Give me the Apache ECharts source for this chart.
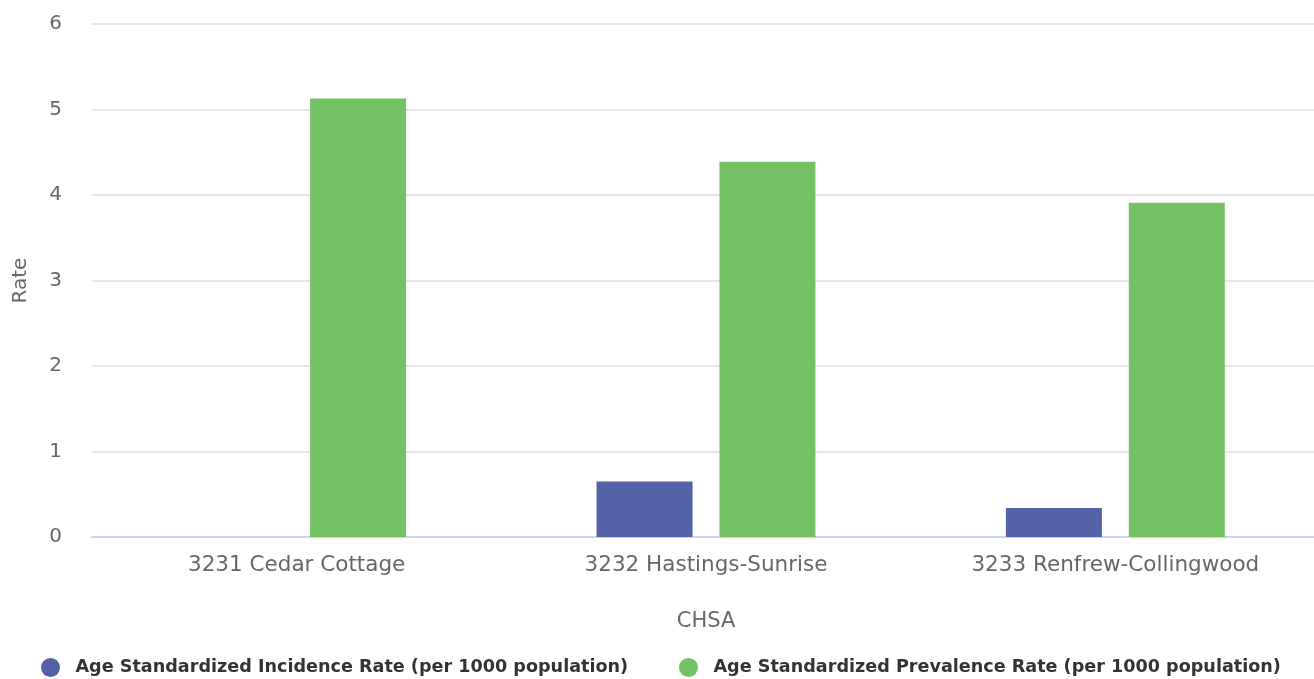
<!DOCTYPE html>
<html>
<head>
<meta charset="utf-8">
<script src="https://cdn.jsdelivr.net/npm/echarts@6/dist/echarts.min.js"></script>
<style>
  html, body { margin: 0; padding: 0; background: #fff; overflow: hidden; }
  #chart { width: 1320px; height: 679px; }
</style>
</head>
<body>
<div id="chart"></div>
<script>
  var categories = ['3231 Cedar Cottage', '3232 Hastings-Sunrise', '3233 Renfrew-Collingwood'];
  var seriesNames = [
    'Age Standardized Incidence Rate (per 1000 population)',
    'Age Standardized Prevalence Rate (per 1000 population)'
  ];
  var incidence = [null, 0.65, 0.34];
  var prevalence = [5.13, 4.39, 3.91];

  var font = 'DejaVu Sans';
  var legendText = { fontSize: 17.6, fontWeight: 'bold', color: '#333', fontFamily: font };

  // the plot runs a few px past the right edge of the window, like the original
  var option = {
    animation: false,
    textStyle: { fontFamily: font },
    grid: { left: 92, right: 0, top: 24, bottom: 142 },
    legend: [{
      left: 36, bottom: -3,
      icon: 'circle', itemWidth: 40, itemHeight: 19,
      textStyle: legendText,
      data: [seriesNames[0]]
    }, {
      left: 674, bottom: -3,
      icon: 'circle', itemWidth: 40, itemHeight: 19,
      textStyle: legendText,
      data: [seriesNames[1]]
    }],
    xAxis: {
      type: 'category',
      data: categories,
      name: 'CHSA',
      nameLocation: 'middle',
      nameGap: 74,
      nameTextStyle: { fontSize: 21, color: '#666' },
      axisLine: { lineStyle: { color: '#ccd6eb', width: 2 } },
      axisTick: { show: false },
      axisLabel: { fontSize: 21.5, color: '#666', margin: 17 }
    },
    yAxis: {
      type: 'value',
      min: 0,
      max: 6,
      interval: 1,
      name: 'Rate',
      nameLocation: 'middle',
      nameGap: 61,
      nameTextStyle: { fontSize: 20, color: '#666' },
      axisLabel: { fontSize: 20, color: '#666', margin: 30 },
      splitLine: { lineStyle: { color: '#e6e6e6', width: 2 } }
    },
    series: [{
      name: seriesNames[0],
      type: 'bar',
      data: incidence,
      barWidth: 96,
      barGap: '28%',
      itemStyle: { color: '#5362a6' }
    }, {
      name: seriesNames[1],
      type: 'bar',
      data: prevalence,
      barWidth: 96,
      itemStyle: { color: '#73c163' }
    }]
  };

  echarts.init(document.getElementById('chart')).setOption(option);
</script>
</body>
</html>
